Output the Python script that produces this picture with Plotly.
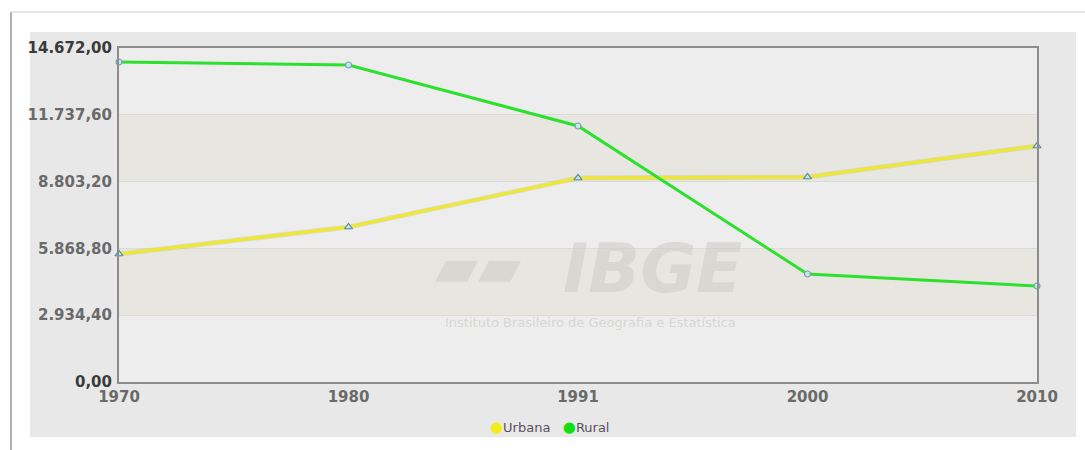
import plotly.graph_objects as go

# ---- data ----
years = ["1970", "1980", "1991", "2000", "2010"]
urbana = [5623, 6809, 8962, 9006, 10367]
rural = [14057, 13926, 11246, 4744, 4217]
y_ticks = [0, 2934.4, 5868.8, 8803.2, 11737.6, 14672.0]
series_names = ["Urbana", "Rural"]

W, H = 1085, 450
L, R, T, B = 119, 1037, 48, 382  # plot area in pixels


def px_x(p):
    return (p - L) / (R - L)


def px_y(p):
    return (B - p) / (B - T)


def fmt_br(v):
    s = f"{v:,.2f}"
    return s.replace(",", "X").replace(".", ",").replace("X", ".")


ticktext = []
for i, v in enumerate(y_ticks):
    t = fmt_br(v)
    if i == 0 or i == len(y_ticks) - 1:
        t = f"<b><span style='color:#3a3a3a'>{t}</span></b>"
    else:
        t = f"<b>{t}</b>"
    ticktext.append(t)

fig = go.Figure()

fig.add_trace(go.Scatter(
    x=years, y=urbana, mode="lines", showlegend=False, hoverinfo="skip",
    line=dict(color="rgba(120,110,90,0.13)", width=5)))
fig.add_trace(go.Scatter(
    x=years, y=urbana, mode="lines+markers", name=series_names[0], showlegend=False,
    line=dict(color="#ede73a", width=3.5),
    marker=dict(symbol="triangle-up", size=7, color="#cfe0e4",
                line=dict(color="#4f8fa8", width=1.2)),
    cliponaxis=False))
fig.add_trace(go.Scatter(
    x=years, y=rural, mode="lines+markers", name=series_names[1], showlegend=False,
    line=dict(color="#2ee02e", width=3),
    marker=dict(symbol="circle", size=6, color="#cfe4e8",
                line=dict(color="#6aa6b8", width=1.2)),
    cliponaxis=False))

shapes = [
    dict(type="line", xref="paper", yref="paper", x0=px_x(11), x1=px_x(11),
         y0=px_y(12), y1=px_y(452), line=dict(color="#b0b0b0", width=2), layer="below"),
    dict(type="line", xref="paper", yref="paper", x0=px_x(11), x1=px_x(1085),
         y0=px_y(12), y1=px_y(12), line=dict(color="#dedede", width=1.5), layer="below"),
    dict(type="rect", xref="paper", yref="paper", x0=px_x(30), x1=px_x(1076),
         y0=px_y(437), y1=px_y(32), fillcolor="#e8e8e8", line=dict(width=0), layer="below"),
    dict(type="rect", xref="paper", yref="paper", x0=0, x1=1, y0=0, y1=1,
         fillcolor="#ededed", line=dict(width=0), layer="below"),
    dict(type="rect", xref="x domain", yref="y", x0=0, x1=1,
         y0=y_ticks[1], y1=y_ticks[2], fillcolor="#e8e6e0", line=dict(width=0), layer="below"),
    dict(type="rect", xref="x domain", yref="y", x0=0, x1=1,
         y0=y_ticks[3], y1=y_ticks[4], fillcolor="#e8e6e0", line=dict(width=0), layer="below"),
]

wm = "rgba(205,205,200,0.6)"
annotations = [
    dict(text="<b><i>IBGE</i></b>", xref="paper", yref="paper",
         x=px_x(652), y=px_y(268), xanchor="center", yanchor="middle", showarrow=False,
         font=dict(family="DejaVu Sans", size=68, color=wm)),
    dict(text="<b><i>▰▰</i></b>", xref="paper", yref="paper",
         x=px_x(478), y=px_y(266), xanchor="center", yanchor="middle", showarrow=False,
         font=dict(family="DejaVu Sans", size=56, color=wm)),
    dict(text="Instituto Brasileiro de Geografia e Estatística", xref="paper", yref="paper",
         x=px_x(590), y=px_y(322), xanchor="center", yanchor="middle", showarrow=False,
         font=dict(family="DejaVu Sans", size=13, color="rgba(212,212,208,0.9)")),
    # legend
    dict(text=(f"<span style='color:#f2ec1c;font-size:15px'>●</span>{series_names[0]}"
               f"   <span style='color:#12e012;font-size:15px'>●</span>{series_names[1]}"),
         xref="paper", yref="paper", x=px_x(550), y=px_y(427),
         xanchor="center", yanchor="middle", showarrow=False,
         font=dict(family="DejaVu Sans", size=13, color="#5a5060")),
]

fig.update_layout(
    width=W, height=H,
    margin=dict(l=L, r=W - R, t=T, b=H - B, pad=0),
    paper_bgcolor="white",
    plot_bgcolor="rgba(0,0,0,0)",
    shapes=shapes,
    annotations=annotations,
    showlegend=False,
    font=dict(family="DejaVu Sans"),
)

fig.update_xaxes(
    type="category", range=[0, len(years) - 1],
    showgrid=False, zeroline=False,
    showline=True, linecolor="#8c8c8c", linewidth=2, mirror=True,
    ticks="", tickfont=dict(family="DejaVu Sans", size=15, color="#6a6a6a"),
    tickvals=years, ticktext=[f"<b>{y}</b>" for y in years],
)
fig.update_yaxes(
    range=[0, y_ticks[-1]],
    tickvals=y_ticks, ticktext=ticktext,
    showgrid=True, gridcolor="#dcdcd6", gridwidth=1,
    zeroline=False,
    showline=True, linecolor="#8c8c8c", linewidth=2, mirror=True,
    ticks="", ticklabelstandoff=2,
    tickfont=dict(family="DejaVu Sans", size=15, color="#6a6a6a"),
)

fig.write_html("out.html", config={"displayModeBar": False},
               post_script="document.body.style.margin='0';document.body.style.overflow='hidden';")
